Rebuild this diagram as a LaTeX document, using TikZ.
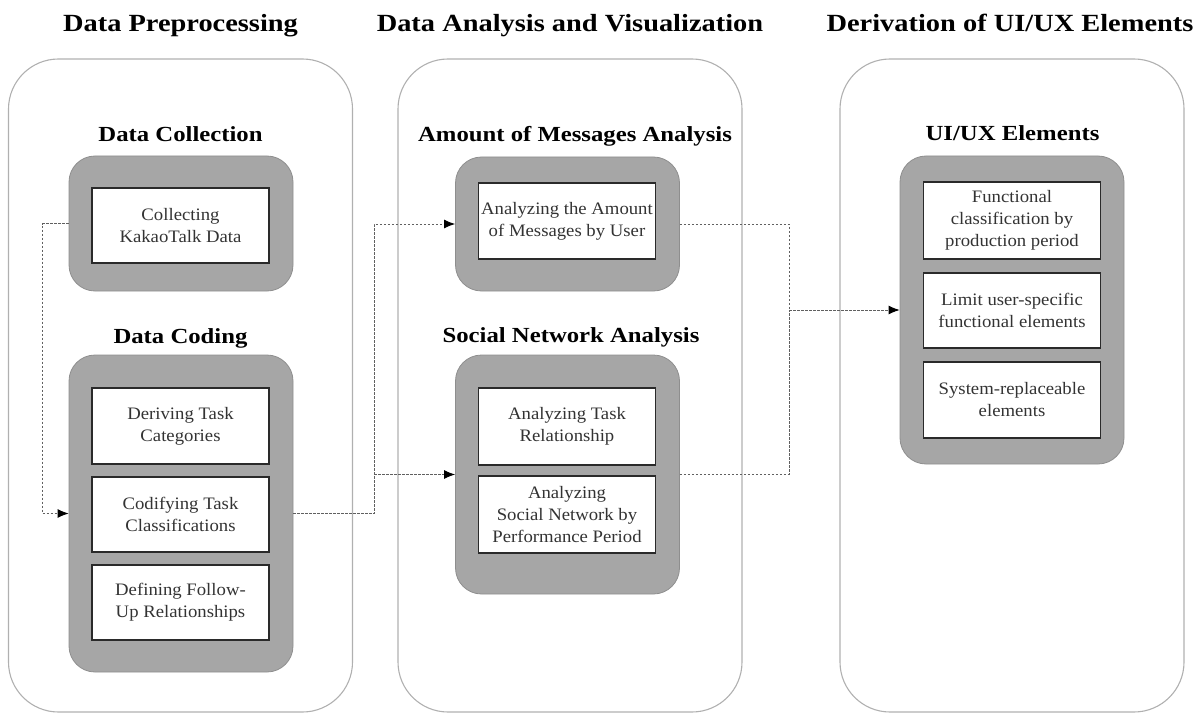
\documentclass[tikz,border=0pt]{standalone}
\usepackage{fontspec}
\setmainfont{Liberation Serif}
\newfontfamily\hdfont{Liberation Serif}[FakeStretch=1.15]
\newfontfamily\bdfont{Liberation Serif}[FakeStretch=1.07]
\usetikzlibrary{arrows.meta,calc}
\definecolor{panelline}{HTML}{B0B0B0}
\definecolor{gfill}{HTML}{A6A6A6}
\definecolor{gline}{HTML}{8E8E8E}
\definecolor{boxline}{HTML}{2A2A2A}
\definecolor{txtgray}{HTML}{333333}
\definecolor{conncol}{HTML}{606060}
\begin{document}
\begin{tikzpicture}[x=1pt,y=-1pt,
  panel/.style={draw=panelline, line width=1.1pt, rounded corners=50pt, minimum width=344pt, minimum height=653pt, inner sep=0pt},
  gbox/.style={draw=gline, fill=gfill, line width=0.8pt, rounded corners=26pt, minimum width=224pt, inner sep=0pt},
  inbox/.style={draw=boxline, fill=white, line width=1.5pt, minimum width=177pt, align=center, inner sep=0pt, font=\bdfont\fontsize{17.5}{22}\selectfont, text=txtgray},
  hdr/.style={font=\hdfont\bfseries\fontsize{24.7}{28}\selectfont, anchor=base},
  subhdr/.style={font=\hdfont\bfseries\fontsize{21.5}{25}\selectfont, anchor=base},
  dotline/.style={draw=conncol, line width=0.9pt, dash pattern=on 2.5pt off 1.5pt},
  arr/.style={-{Latex[length=11pt,width=9pt,color=black]}}
]
\useasboundingbox (0,0) rectangle (1204,714);

% panels
\node[panel] (p1) at (180.5,385.5) {};
\node[panel] (p2) at (570,385.5) {};
\node[panel] (p3) at (1012,385.5) {};

% headers
\node[hdr] (h1) at (180.5,32) {Data Preprocessing};
\node[hdr] (h2) at (570,32) {Data Analysis and Visualization};
\node[hdr] (h3) at (1010,32) {Derivation of UI/UX Elements};

% sub headers
\node[subhdr] (s1) at (180.5,142) {Data Collection};
\node[subhdr] (s2) at (180.5,343) {Data Coding};
\node[subhdr] (s3) at (575,142) {Amount of Messages Analysis};
\node[subhdr] (s4) at (571,342) {Social Network Analysis};
\node[subhdr] (s5) at (1012.5,141) {UI/UX Elements};

% gray boxes
\node[gbox, minimum height=135pt] (colG) at (181,223.5) {};
\node[gbox, minimum height=317pt] (codG) at (181,513.5) {};
\node[gbox, minimum height=134pt] (amtG) at (567.5,224) {};
\node[gbox, minimum height=239pt] (snaG) at (567.5,474.5) {};
\node[gbox, minimum height=308pt] (uiG) at (1012,310) {};

% inner boxes
\node[inbox, minimum height=75pt] (col) at (180.5,225.5) {Collecting\\KakaoTalk Data};
\node[inbox, minimum height=76pt] (cod1) at (180.5,426) {Deriving Task\\Categories};
\node[inbox, minimum height=75pt] (cod2) at (180.5,514.5) {Codifying Task\\Classifications};
\node[inbox, minimum height=75pt] (cod3) at (180.5,602.5) {Defining Follow-\\Up Relationships};
\node[inbox, minimum height=76pt] (amt) at (567,221) {Analyzing the Amount\\of Messages by User};
\node[inbox, minimum height=77pt] (sna1) at (567,426.5) {Analyzing Task\\Relationship};
\node[inbox, minimum height=77pt] (sna2) at (567,514.5) {Analyzing\\Social Network by\\Performance Period};
\node[inbox, minimum height=77pt] (ui1) at (1012,220.5) {Functional\\classification by\\production period};
\node[inbox, minimum height=75pt] (ui2) at (1012,310.5) {Limit user-specific\\functional elements};
\node[inbox, minimum height=76pt] (ui3) at (1012,400) {System-replaceable\\elements};

% connectors
\draw[dotline, arr] (colG.west) -- ++(-26,0) |- (codG.west);
\coordinate (j1) at ($(codG.east)+(81,0)$);
\draw[dotline, arr] (codG.east) -- (j1) |- (snaG.west);
\draw[dotline, arr] (j1 |- snaG.west) |- (amtG.west);
\coordinate (j2) at (789,310);
\draw[dotline] (amtG.east) -| (j2);
\draw[dotline] (snaG.east) -| (j2);
\draw[dotline, arr] (j2) -- (uiG.west);
\end{tikzpicture}
\end{document}
